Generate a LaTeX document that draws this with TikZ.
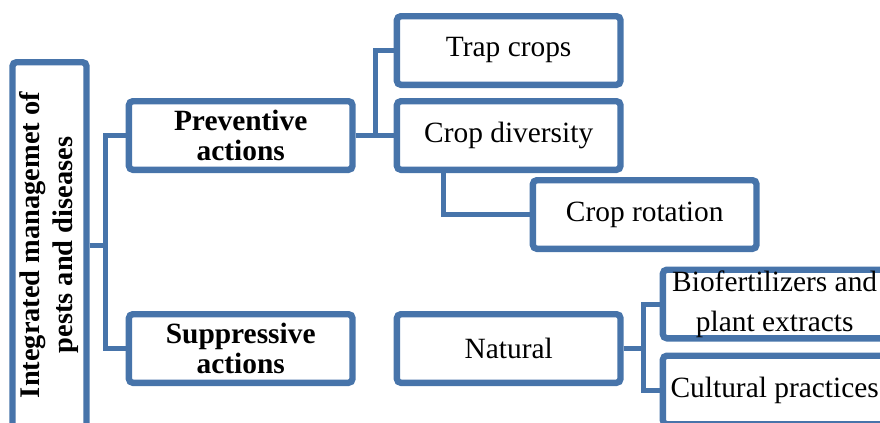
\documentclass[tikz,border=0pt]{standalone}
\usepackage{fontspec}
\setmainfont{Liberation Serif}
\usepackage{graphicx}
\usepackage{tikz}
\usetikzlibrary{positioning}
\usepackage{xcolor}
\definecolor{azul}{RGB}{71, 116, 170}
\tikzset{
  caixa/.style={
    draw=azul, fill=white, line width=3.2pt, rounded corners=2pt,
    minimum width=111.8pt, minimum height=34.3pt, inner sep=2pt,
    font=\fontsize{14.7}{15}\selectfont, align=center
  },
  caixaB/.style={caixa, font=\bfseries\fontsize{14.7}{15}\selectfont},
  liga/.style={draw=azul, line width=2.5pt},
}

\begin{document}
\begin{tikzpicture}[node distance=5pt and 18pt]
        \useasboundingbox (0,0) rectangle (440pt,-211.5pt);
        \clip (0,0) rectangle (440pt,-211.5pt);

        \node[caixaB, minimum width=34.3pt, minimum height=182.8pt] (integ) at (24.75pt,-122.5pt)
          {\fontsize{14.2}{16.5}\selectfont\rotatebox{90}{\begin{tabular}{@{}c@{}}Integrated managemet of\\pests and diseases\end{tabular}}};

        \node[caixaB, above right=36pt and 18pt of integ.east] (prev) {Preventive\\actions};
        \node[caixaB, below right=33pt and 18pt of integ.east] (supp) {Suppressive\\actions};

        \node[caixa, right=19pt of prev] (cdiv) {Crop diversity};
        \node[caixa, above=5pt of cdiv] (trap) {Trap crops};
        \node[caixa, below right=2pt and 10.5pt of cdiv.south] (crot) {Crop rotation};

        \node[caixa, right=19pt of supp] (natural) {Natural};
        \node[caixa, above right=3.5pt and 18pt of natural.east, inner ysep=0pt,
          font=\fontsize{14.7}{20}\selectfont] (biof) {Biofertilizers and\\plant extracts};
        \node[caixa, below=5.5pt of biof] (cultp) {Cultural practices};

        % ligacoes em angulo reto
        \draw[liga] (integ.east) -- ++(8pt,0) |- (prev.west);
        \draw[liga] (integ.east) -- ++(8pt,0) |- (supp.west);
        \draw[liga] (prev.east) -- ++(10pt,0) |- (trap.west);
        \draw[liga] (prev.east) -- (cdiv.west);
        \draw[liga] ([xshift=25pt]cdiv.south west) |- (crot.west);
        \draw[liga] (natural.east) -- ++(10pt,0) |- (biof.west);
        \draw[liga] (natural.east) -- ++(10pt,0) |- (cultp.west);
      \end{tikzpicture}
\end{document}
